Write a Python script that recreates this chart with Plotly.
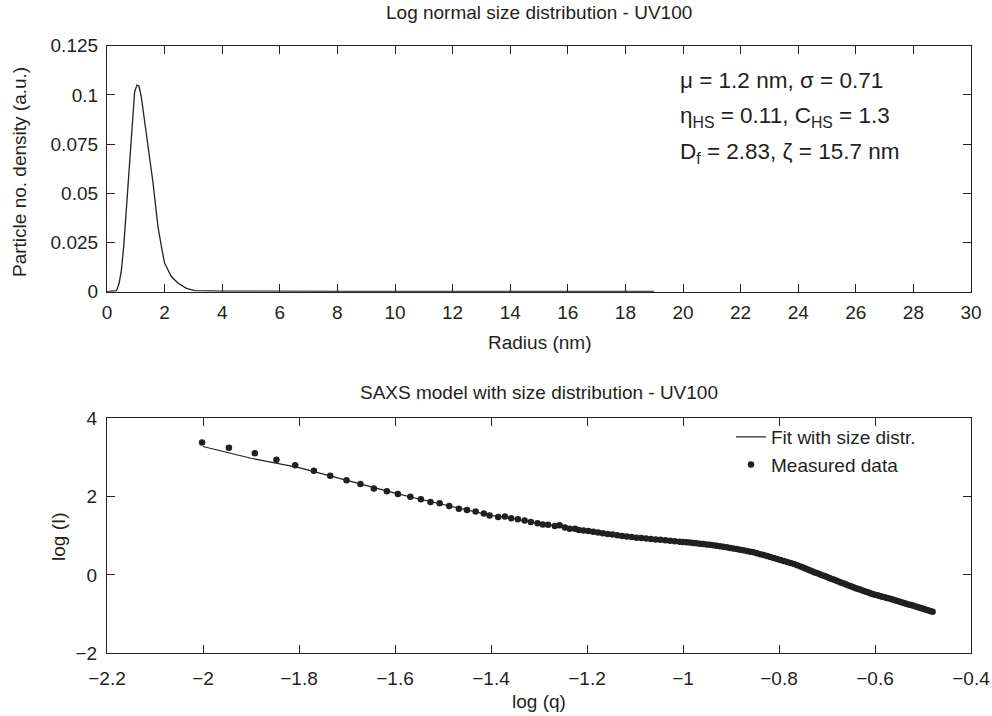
import plotly.graph_objects as go

W, H = 992, 716
INK = "#231f20"
FONT = "Liberation Sans, Arial, Helvetica, sans-serif"
FS = 19
FS_NOTE = 22.5

# ---------------- upper panel: log-normal size distribution ----------------
radius_nm = [0.0, 0.33, 0.42, 0.50, 0.58, 0.67, 0.77, 0.85, 0.90, 0.96, 1.04,
             1.11, 1.19, 1.29, 1.37, 1.43, 1.51, 1.60, 1.69, 1.77, 1.89, 2.00,
             2.12, 2.24, 2.47, 2.76, 3.05, 4.0, 8.0, 12.0, 16.0, 19.0]
density = [0.0, 0.0005, 0.0043, 0.0110, 0.0229, 0.0415, 0.0618, 0.0805, 0.0932,
           0.1016, 0.1050, 0.1045, 0.0991, 0.0889, 0.0805, 0.0745, 0.0652,
           0.0551, 0.0432, 0.0330, 0.0229, 0.0144, 0.0110, 0.0076, 0.0043,
           0.0017, 0.0005, 0.0003, 0.0002, 0.0002, 0.0002, 0.0002]

fit_params = [
    "\u03bc = 1.2 nm, \u03c3 = 0.71",
    "\u03b7<sub>HS</sub> = 0.11, C<sub>HS</sub> = 1.3",
    "D<sub>f</sub> = 2.83, \u03b6 = 15.7 nm",
]

# ---------------- lower panel: SAXS model vs measured data ----------------
fit_logq = [-2.0, -1.9, -1.8, -1.7, -1.6, -1.55, -1.5, -1.45, -1.4, -1.35, -1.3,
            -1.25, -1.2, -1.15, -1.1, -1.05, -1.0, -0.95, -0.9, -0.85, -0.8,
            -0.75, -0.7, -0.65, -0.6, -0.55, -0.5, -0.479]
fit_logI = [3.28, 2.98, 2.74, 2.41, 2.09, 1.94, 1.80, 1.65, 1.52, 1.43, 1.31,
            1.23, 1.13, 1.035, 0.96, 0.90, 0.84, 0.77, 0.69, 0.575, 0.42,
            0.19, -0.05, -0.29, -0.49, -0.68, -0.87, -0.945]

meas_logq = [
    -2.002, -1.946, -1.892, -1.847, -1.808, -1.769, -1.735, -1.701, -1.672, -1.644,
    -1.617, -1.594, -1.568, -1.546, -1.526, -1.507, -1.487, -1.467, -1.450, -1.432,
    -1.415, -1.403, -1.385, -1.371, -1.358, -1.344, -1.330, -1.317, -1.303, -1.292,
    -1.281, -1.267, -1.257, -1.246, -1.236, -1.225, -1.217,
    -1.207, -1.197, -1.187, -1.177, -1.167, -1.157, -1.147, -1.137, -1.127, -1.117,
    -1.107, -1.097, -1.087, -1.077, -1.067, -1.057, -1.047, -1.037, -1.027, -1.017,
    -1.007,
    -1.000, -0.993, -0.986, -0.979, -0.972, -0.965, -0.958, -0.951, -0.944, -0.937,
    -0.930, -0.923, -0.916, -0.909, -0.902, -0.895, -0.888, -0.881, -0.874, -0.867,
    -0.860, -0.853, -0.846, -0.839, -0.832, -0.825, -0.818, -0.811, -0.804, -0.797,
    -0.790, -0.783, -0.776, -0.769, -0.762, -0.755,
    -0.750, -0.745, -0.740, -0.735, -0.730, -0.725, -0.720, -0.715, -0.710, -0.705,
    -0.700, -0.695, -0.690, -0.685, -0.680, -0.675, -0.670, -0.665, -0.660, -0.655,
    -0.650, -0.645, -0.640, -0.635, -0.630, -0.625, -0.620, -0.615, -0.610, -0.605,
    -0.600, -0.595, -0.590, -0.585, -0.580, -0.575, -0.570, -0.565, -0.560, -0.555,
    -0.550, -0.545, -0.540, -0.535, -0.530, -0.525, -0.520, -0.515, -0.510, -0.505,
    -0.500, -0.495, -0.490, -0.485, -0.480,
]
meas_logI = [
    3.38, 3.25, 3.11, 2.94, 2.80, 2.66, 2.53, 2.42, 2.32, 2.21,
    2.14, 2.07, 2.00, 1.93, 1.86, 1.83, 1.76, 1.69, 1.66, 1.62,
    1.57, 1.52, 1.48, 1.49, 1.45, 1.42, 1.39, 1.35, 1.32, 1.29,
    1.285, 1.25, 1.27, 1.21, 1.18, 1.18, 1.15,
    1.138, 1.122, 1.103, 1.083, 1.064, 1.047, 1.030, 1.013, 0.997, 0.982,
    0.968, 0.953, 0.941, 0.929, 0.917, 0.906, 0.896, 0.886, 0.876, 0.863,
    0.851,
    0.843, 0.834, 0.826, 0.817, 0.809, 0.800, 0.792, 0.780, 0.769, 0.757,
    0.745, 0.733, 0.719, 0.705, 0.690, 0.676, 0.662, 0.645, 0.628, 0.611,
    0.594, 0.578, 0.554, 0.532, 0.509, 0.487, 0.461, 0.436, 0.410, 0.385,
    0.359, 0.334, 0.308, 0.281, 0.247, 0.213,
    0.188, 0.163, 0.139, 0.115, 0.090, 0.066, 0.042, 0.018, -0.006, -0.029,
    -0.053, -0.077, -0.101, -0.125, -0.148, -0.172, -0.196, -0.220, -0.243, -0.267,
    -0.291, -0.314, -0.336, -0.357, -0.379, -0.400, -0.421, -0.443, -0.464, -0.486,
    -0.503, -0.520, -0.537, -0.553, -0.570, -0.587, -0.603, -0.620, -0.637, -0.656,
    -0.675, -0.694, -0.713, -0.732, -0.751, -0.769, -0.789, -0.808, -0.827, -0.846,
    -0.865, -0.884, -0.903, -0.922, -0.941,
]


def px(x):
    return x / W


def py(y):
    return 1 - y / H


X_DOM = [px(107), px(971)]
TOP_DOM = [py(291.7), py(45.7)]
BOT_DOM = [py(653.3), py(418.3)]

fig = go.Figure()

fig.add_trace(go.Scatter(
    x=radius_nm, y=density, mode="lines", line=dict(color=INK, width=1.3),
    showlegend=False, xaxis="x", yaxis="y",
))
fig.add_trace(go.Scatter(
    x=fit_logq, y=fit_logI, mode="lines", name="Fit with size distr.",
    line=dict(color=INK, width=1.2), xaxis="x2", yaxis="y2",
))
fig.add_trace(go.Scatter(
    x=meas_logq, y=meas_logI, mode="markers", name="Measured data",
    marker=dict(color=INK, size=6.5, line=dict(width=0)), xaxis="x2", yaxis="y2",
))

axis_common = dict(
    showline=True, linecolor=INK, linewidth=1.2, mirror="ticks",
    ticks="inside", ticklen=8, tickwidth=1, tickcolor=INK,
    showgrid=False, zeroline=False, automargin=False,
    tickfont=dict(family=FONT, size=FS, color=INK),
)

fig.update_layout(
    width=W, height=H,
    margin=dict(l=0, r=0, t=0, b=0),
    paper_bgcolor="white", plot_bgcolor="white",
    font=dict(family=FONT, size=FS, color=INK),
    xaxis=dict(domain=X_DOM, anchor="y", range=[0, 30], tick0=0, dtick=2,
               ticklabelstandoff=3, **axis_common),
    yaxis=dict(domain=TOP_DOM, anchor="x", range=[0, 0.125], tick0=0, dtick=0.025,
               ticklabelstandoff=4, **axis_common),
    xaxis2=dict(domain=X_DOM, anchor="y2", range=[-2.2, -0.4], tick0=-2.2, dtick=0.2,
                ticklabelstandoff=8, **axis_common),
    yaxis2=dict(domain=BOT_DOM, anchor="x2", range=[-2, 4], tick0=-2, dtick=2,
                ticklabelstandoff=5, **axis_common),
    legend=dict(
        x=px(731), y=py(418), xanchor="left", yanchor="top",
        bgcolor="rgba(0,0,0,0)", borderwidth=0,
        font=dict(family=FONT, size=19, color=INK),
        tracegroupgap=0,
    ),
)

annots = [
    dict(text="Log normal size distribution - UV100", x=px(539), y=py(12)),
    dict(text="Radius (nm)", x=px(539), y=py(342)),
    dict(text="Particle no. density (a.u.)", x=px(19), y=py(172), textangle=-90),
    dict(text="SAXS model with size distribution - UV100", x=px(539), y=py(392)),
    dict(text="log (q)", x=px(539), y=py(701)),
    dict(text="log (I)", x=px(58), y=py(537), textangle=-90),
]
for a in annots:
    fig.add_annotation(xref="paper", yref="paper", showarrow=False,
                       xanchor="center", yanchor="middle",
                       font=dict(family=FONT, size=FS, color=INK), **a)

for i, line in enumerate(fit_params):
    fig.add_annotation(xref="paper", yref="paper", showarrow=False,
                       x=px(678), y=py(80 + 36.5 * i), xanchor="left", yanchor="middle",
                       text=line, font=dict(family=FONT, size=FS_NOTE, color=INK))

fig.write_html("out.html")
